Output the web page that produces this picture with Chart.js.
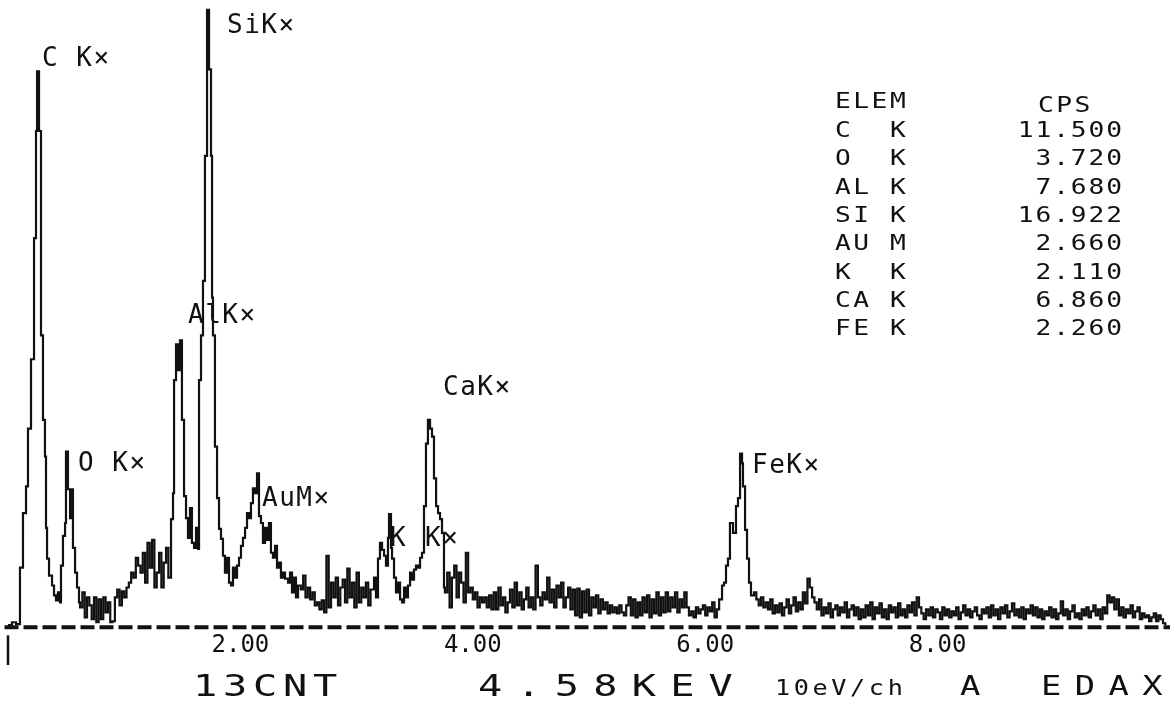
<!DOCTYPE html>
<html>
<head>
<meta charset="utf-8">
<script src="https://cdn.jsdelivr.net/npm/chart.js@4.4.1/dist/chart.umd.min.js"></script>
<style>
  html, body { margin: 0; padding: 0; background: #fff; }
  #wrap { width: 1176px; height: 705px; }
</style>
</head>
<body>
<div id="wrap"><canvas id="spectrum" width="1176" height="705"></canvas></div>
<script>
// EDAX spectrum, 10 eV per channel
// energy in keV, counts in plot units (0 = dashed baseline)
var energyKeV = [
  // C and O
  0.000,0.034,0.069,0.103,0.129,0.155,0.172,0.198,0.224,0.241,0.250,0.267,0.284,0.301,0.318,0.327,0.336,0.353,0.379,0.396,0.413,0.430,0.448,0.456,0.473,0.491,0.499,0.516,0.534,0.551,0.559,0.577,0.594,0.611,
  // background up to Al
  0.62,0.64,0.66,0.68,0.70,0.72,0.74,0.76,0.78,0.80,0.82,0.84,0.86,0.88,0.90,0.92,0.94,0.96,0.98,1.00,1.02,1.04,1.06,1.08,1.10,1.12,1.14,1.16,1.18,1.20,1.22,1.24,1.26,1.28,1.30,1.32,1.34,1.36,1.38,
  // Al, Si, Au M
  1.403,1.420,1.429,1.446,1.463,1.480,1.497,1.515,1.532,1.549,1.566,1.583,1.601,1.618,1.635,1.644,1.661,1.678,1.695,1.713,1.730,1.747,1.756,1.764,1.781,1.799,1.816,1.833,1.850,1.867,1.885,1.902,1.919,1.936,1.954,1.971,1.988,2.005,2.022,2.040,2.057,2.074,2.091,2.108,2.126,2.143,2.160,2.177,2.194,2.212,2.229,2.246,2.263,2.280,2.298,2.315,2.332,2.349,2.367,2.384,2.410,2.427,2.444,2.461,2.478,2.496,
  // background
  2.52,2.54,2.56,2.58,2.60,2.62,2.64,2.66,2.68,2.70,2.72,2.74,2.76,2.78,2.80,2.82,2.84,2.86,2.88,2.90,2.92,2.94,2.96,2.98,3.00,3.02,3.04,3.06,3.08,3.10,3.12,
  // K and Ca
  3.150,3.167,3.184,3.201,3.219,3.236,3.253,3.270,3.279,3.296,3.305,3.322,3.339,3.356,3.374,3.391,3.408,3.425,3.442,3.460,3.477,3.494,3.511,3.528,3.546,3.563,3.580,3.597,3.614,3.632,3.649,3.666,3.684,3.701,3.718,3.735,3.752,
  // background up to Fe
  3.76,3.78,3.80,3.82,3.84,3.86,3.88,3.90,3.92,3.94,3.96,3.98,4.00,
  4.02,4.04,4.06,4.08,4.10,4.12,4.14,4.16,4.18,4.20,
  4.22,4.24,4.26,4.28,4.30,4.32,4.34,4.36,4.38,4.40,
  4.42,4.44,4.46,4.48,4.50,4.52,4.54,4.56,4.58,4.60,
  4.62,4.64,4.66,4.68,4.70,4.72,4.74,4.76,4.78,4.80,
  4.82,4.84,4.86,4.88,4.90,4.92,4.94,4.96,4.98,5.00,
  5.02,5.04,5.06,5.08,5.10,5.12,5.14,5.16,5.18,5.20,
  5.22,5.24,5.26,5.28,5.30,5.32,5.34,5.36,5.38,5.40,
  5.42,5.44,5.46,5.48,5.50,5.52,5.54,5.56,5.58,5.60,
  5.62,5.64,5.66,5.68,5.70,5.72,5.74,5.76,5.78,5.80,
  5.82,5.84,5.86,5.88,5.90,5.92,5.94,5.96,5.98,6.00,
  6.02,6.04,6.06,6.08,6.10,6.12,
  // Fe
  6.145,6.162,6.179,6.196,6.213,6.239,6.265,6.282,6.300,6.317,6.325,6.343,6.360,6.377,6.394,
  // background to the end
  6.42,6.44,6.46,6.48,6.50,6.52,6.54,6.56,6.58,6.60,
  6.62,6.64,6.66,6.68,6.70,6.72,6.74,6.76,6.78,6.80,
  6.82,6.84,6.86,6.88,6.90,6.92,6.94,6.96,6.98,7.00,
  7.02,7.04,7.06,7.08,7.10,7.12,7.14,7.16,7.18,7.20,
  7.22,7.24,7.26,7.28,7.30,7.32,7.34,7.36,7.38,7.40,
  7.42,7.44,7.46,7.48,7.50,7.52,7.54,7.56,7.58,7.60,
  7.62,7.64,7.66,7.68,7.70,7.72,7.74,7.76,7.78,7.80,
  7.82,7.84,7.86,7.88,7.90,7.92,7.94,7.96,7.98,8.00,
  8.02,8.04,8.06,8.08,8.10,8.12,8.14,8.16,8.18,8.20,
  8.22,8.24,8.26,8.28,8.30,8.32,8.34,8.36,8.38,8.40,
  8.42,8.44,8.46,8.48,8.50,8.52,8.54,8.56,8.58,8.60,
  8.62,8.64,8.66,8.68,8.70,8.72,8.74,8.76,8.78,8.80,
  8.82,8.84,8.86,8.88,8.90,8.92,8.94,8.96,8.98,9.00,
  9.02,9.04,9.06,9.08,9.10,9.12,9.14,9.16,9.18,9.20,
  9.22,9.24,9.26,9.28,9.30,9.32,9.34,9.36,9.38,9.40,
  9.42,9.44,9.46,9.48,9.50,9.52,9.54,9.56,9.58,9.60,
  9.62,9.64,9.66,9.68,9.70,9.72,9.74,9.76,9.78,9.80,
  9.82,9.84,9.86,9.88,9.90,9.92,9.94,9.96
];

var counts = [
  2,5,3,60,115,142,200,270,392,500,560,500,294,209,172,100,69,52,42,32,27,35,25,62,92,105,177,139,110,139,80,55,40,25,
  20,35,10,30,22,8,30,5,28,8,30,15,25,5,6,30,38,22,36,30,40,45,55,50,70,62,55,75,45,85,60,88,40,55,75,40,65,80,50,
  109,135,249,285,259,289,209,132,110,90,120,85,80,100,79,249,294,349,475,622,562,475,332,294,182,130,99,89,72,55,70,45,42,60,50,62,70,82,90,100,115,110,125,140,135,155,112,105,85,100,88,105,75,70,82,60,65,50,55,49,45,55,35,50,30,42,
  38,52,30,40,28,35,22,25,18,27,15,72,20,45,30,50,22,40,48,25,59,30,45,20,55,25,40,30,45,22,38,
  50,30,69,85,78,72,62,90,114,80,69,50,35,45,28,25,40,30,42,55,48,58,62,60,70,75,122,185,209,200,192,150,122,115,109,95,40,
  35,55,20,50,62,30,55,45,25,75,35,40,28,
  35,20,30,25,30,20,32,18,35,18,
  40,22,30,15,25,38,20,45,22,35,
  18,28,40,20,30,18,62,30,22,35,
  28,50,25,38,20,42,30,45,20,30,
  40,18,38,12,39,10,36,15,38,12,
  30,20,32,14,28,18,25,14,22,15,
  20,14,22,15,12,22,30,12,28,10,
  25,12,30,15,32,10,28,14,35,12,
  30,15,35,16,30,20,35,15,28,20,
  35,20,12,16,10,20,14,18,22,12,
  20,16,25,10,18,28,
  42,45,62,69,105,95,122,130,175,165,142,98,69,45,32,
  35,28,22,30,20,25,18,28,14,22,
  15,24,12,20,28,14,22,30,16,25,
  18,35,24,49,40,30,25,18,28,12,
  20,14,24,10,18,22,12,20,15,25,
  10,18,22,12,20,8,18,10,22,12,
  25,8,20,14,24,10,18,8,22,15,
  20,10,24,12,18,10,22,15,25,12,
  30,20,14,8,18,12,20,10,18,15,
  8,20,12,18,10,16,12,20,8,15,
  22,12,18,10,16,20,12,8,18,14,
  20,10,22,12,18,8,20,14,22,10,
  16,24,12,18,10,20,8,18,14,22,
  12,20,10,18,8,16,12,20,10,18,
  8,14,26,12,18,8,16,22,10,14,
  8,18,12,20,10,16,22,12,18,8,
  20,14,32,25,30,18,28,12,20,10,
  18,14,22,10,16,20,8,14,10,12,
  6,10,14,6,12,8,4,2
];

var tickKeV = [2, 4, 6, 8];

// peak markers printed on the trace
var peakNames  = ['C K\u00d7', 'O K\u00d7', 'AlK\u00d7', 'SiK\u00d7', 'AuM\u00d7', 'K', 'K\u00d7', 'CaK\u00d7', 'FeK\u00d7'];
var peakKeV    = [0.293, 0.602, 1.549, 1.885, 2.186, 3.287, 3.589, 3.744, 6.403];
var peakCounts = [565, 157, 307, 599, 122, 82, 82, 234, 155];

// quant table
var elemRows  = ['C  K', 'O  K', 'AL K', 'SI K', 'AU M', 'K  K', 'CA K', 'FE K'];
var cpsValues = ['11.500', '3.720', '7.680', '16.922', '2.660', '2.110', '6.860', '2.260'];

var mono = '"DejaVu Sans Mono", "Liberation Mono", monospace';

function drawText(ctx, str, x, y, size, spacing, sx, align) {
  ctx.save();
  ctx.font = size + 'px ' + mono;
  ctx.fillStyle = '#111';
  ctx.textBaseline = 'alphabetic';
  ctx.textAlign = align || 'left';
  ctx.letterSpacing = spacing + 'px';
  ctx.translate(x, y);
  ctx.scale(sx, 1);
  ctx.fillText(str, align === 'right' ? spacing : 0, 0);
  ctx.restore();
}

var printout = {
  id: 'printout',
  afterDatasetsDraw: function(chart) {
    var ctx = chart.ctx;
    var xs = chart.scales.x, ys = chart.scales.y;
    for (var i = 0; i < peakNames.length; i++) {
      drawText(ctx, peakNames[i], xs.getPixelForValue(peakKeV[i]), ys.getPixelForValue(peakCounts[i]), 26, 1.5, 1);
    }
    drawText(ctx, 'ELEM', 835, 108, 21, 2, 1.25);
    drawText(ctx, 'CPS', 1038, 112, 21, 2, 1.25);
    for (var r = 0; r < elemRows.length; r++) {
      var yy = 137 + r * 28.3;
      drawText(ctx, elemRows[r], 835, yy, 21, 2, 1.25);
      drawText(ctx, cpsValues[r], 1122, yy, 21, 1.5, 1.25, 'right');
    }
    drawText(ctx, '13CNT', 193, 696, 31, 4.4, 1.3);
    drawText(ctx, '4.58KEV', 478, 696, 31, 10.9, 1.3);
    drawText(ctx, '10eV/ch', 775, 695, 21, 3, 1.2);
    drawText(ctx, 'A', 960, 695, 26, 0, 1.3);
    drawText(ctx, 'EDAX', 1041, 695, 26, 10.3, 1.3);
  }
};

var points = [];
for (var i = 0; i < energyKeV.length; i++) {
  points.push({x: energyKeV[i], y: counts[i]});
}

var ctx = document.getElementById('spectrum').getContext('2d');
var spectrumChart = new Chart(ctx, {
  type: 'line',
  data: {
    datasets: [
      {
        label: 'spectrum',
        data: points,
        stepped: true,
        borderColor: '#111',
        borderWidth: 2.2,
        pointRadius: 0,
        fill: false,
        clip: false
      },
      {
        label: 'baseline',
        data: [{x: -0.03, y: 0}, {x: 10, y: 0}],
        borderColor: '#111',
        borderWidth: 4,
        borderDash: [14, 5],
        pointRadius: 0,
        clip: false
      },
      {
        label: 'cursor',
        data: [{x: 0, y: -8}, {x: 0, y: -38}],
        borderColor: '#111',
        borderWidth: 2.5,
        pointRadius: 0,
        clip: false
      }
    ]
  },
  options: {
    responsive: false,
    animation: false,
    layout: { padding: { left: 8, right: 6, top: 0, bottom: 41 } },
    plugins: {
      legend: { display: false },
      tooltip: { enabled: false }
    },
    scales: {
      x: {
        type: 'linear',
        min: 0,
        max: 10,
        afterBuildTicks: function(scale) {
          scale.ticks = tickKeV.map(function(v) { return {value: v}; });
        },
        grid: { display: false, drawTicks: false },
        border: { display: false },
        ticks: {
          autoSkip: false,
          maxRotation: 0,
          padding: 4,
          color: '#111',
          font: { family: mono, size: 24 },
          callback: function(v) { return Number(v).toFixed(2); }
        }
      },
      y: {
        display: false,
        min: 0,
        max: 632
      }
    }
  },
  plugins: [printout]
});
</script>
</body>
</html>
